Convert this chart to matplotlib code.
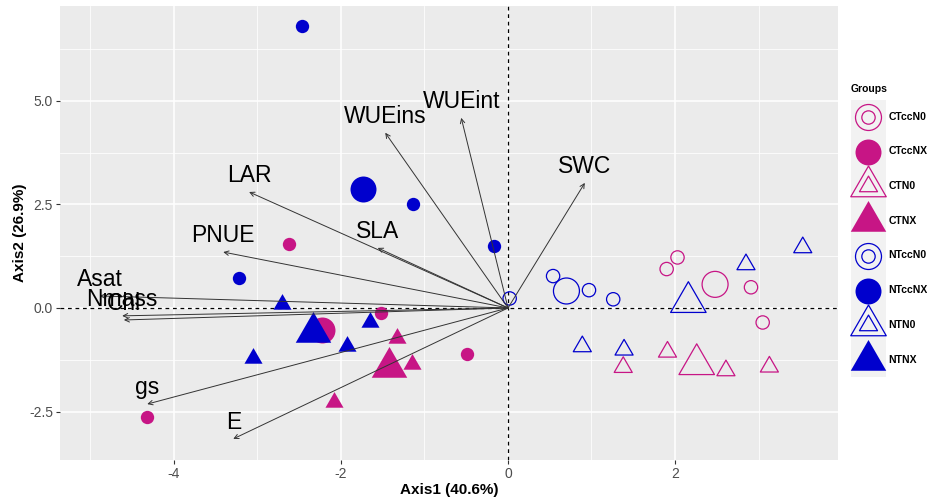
import matplotlib
matplotlib.use('Agg')
import matplotlib.pyplot as plt
from matplotlib.lines import Line2D
from matplotlib.patches import Rectangle
from matplotlib.path import Path
from matplotlib.legend_handler import HandlerBase

plt.rcParams['font.family'] = ['Liberation Sans', 'DejaVu Sans']
plt.rcParams['axes.unicode_minus'] = False

# ---------------- data ----------------
groups = ['CTccN0', 'CTccNX', 'CTN0', 'CTNX', 'NTccN0', 'NTccNX', 'NTN0', 'NTNX']

ctccn0_x = [1.90, 2.03, 2.91, 3.05]
ctccn0_y = [0.94, 1.22, 0.50, -0.35]
ctccnx_x = [-2.62, -1.52, -4.32, -0.49]
ctccnx_y = [1.55, -0.12, -2.63, -1.11]
ctn0_x = [1.38, 1.91, 2.61, 3.13]
ctn0_y = [-1.43, -1.06, -1.51, -1.42]
ctnx_x = [-1.33, -1.15, -2.08]
ctnx_y = [-0.73, -1.35, -2.27]
ntccn0_x = [0.02, 0.54, 0.97, 1.26]
ntccn0_y = [0.23, 0.77, 0.43, 0.21]
ntccnx_x = [-2.47, -1.14, -0.17, -3.22]
ntccnx_y = [6.81, 2.51, 1.50, 0.72]
ntn0_x = [0.89, 1.39, 2.85, 3.53]
ntn0_y = [-0.93, -1.01, 1.05, 1.46]
ntnx_x = [-2.71, -1.65, -1.93, -3.05]
ntnx_y = [0.10, -0.34, -0.91, -1.21]

centroid_x = [2.48, -2.23, 2.26, -1.43, 0.70, -1.74, 2.16, -2.34]
centroid_y = [0.57, -0.53, -1.36, -1.43, 0.41, 2.87, 0.14, -0.59]

variables = ['Asat', 'Nmass', 'Chl', 'gs', 'E', 'PNUE', 'LAR', 'SLA', 'WUEins', 'WUEint', 'SWC']
load_x = [-4.89, -4.62, -4.60, -4.32, -3.29, -3.41, -3.10, -1.56, -1.47, -0.56, 0.92]
load_y = [0.29, -0.19, -0.29, -2.32, -3.16, 1.35, 2.80, 1.45, 4.23, 4.59, 3.02]

x_ticks = [-4, -2, 0, 2]
y_ticks = [-2.5, 0.0, 2.5, 5.0]
y_ticklabels = ['-2.5', '0.0', '2.5', '5.0']

# ---------------- styles ----------------
MAG = '#C71585'
BLU = '#0000CD'
tri = Path([(0, 0.577), (-0.5, -0.289), (0.5, -0.289), (0, 0.577)],
           [Path.MOVETO, Path.LINETO, Path.LINETO, Path.CLOSEPOLY])

group_x = [ctccn0_x, ctccnx_x, ctn0_x, ctnx_x, ntccn0_x, ntccnx_x, ntn0_x, ntnx_x]
group_y = [ctccn0_y, ctccnx_y, ctn0_y, ctnx_y, ntccn0_y, ntccnx_y, ntn0_y, ntnx_y]
g_color = [MAG, MAG, MAG, MAG, BLU, BLU, BLU, BLU]
g_marker = ['o', 'o', tri, tri, 'o', 'o', tri, tri]
g_filled = [False, True, False, True, False, True, False, True]

SMALL = {'o': 9.6, 'tri': 15.0}
LARGE = {'o': 18.7, 'tri': 29.5}

fig = plt.figure(figsize=(9.28, 4.99), dpi=100)
ax = fig.add_axes([60 / 928, 39 / 499, 778 / 928, 454 / 499])
ax.set_facecolor('#EBEBEB')
for s in ax.spines.values():
    s.set_visible(False)

ax.set_xlim(-5.365, 3.952)
ax.set_ylim(-3.67, 7.29)
ax.set_xticks(x_ticks)
ax.set_xticklabels([str(v) for v in x_ticks])
ax.set_yticks(y_ticks)
ax.set_yticklabels(y_ticklabels)
ax.set_xticks([-5, -3, -1, 1, 3], minor=True)
ax.set_yticks([-1.25, 1.25, 3.75, 6.25], minor=True)
ax.grid(which='major', color='white', lw=1.1)
ax.grid(which='minor', color='white', lw=0.55)
ax.set_axisbelow(True)
ax.tick_params(which='major', length=3, width=0.8, color='#333333',
               labelcolor='#4D4D4D', labelsize=10, pad=2)
ax.tick_params(which='minor', length=0)

ax.axhline(0, color='black', lw=0.9, ls=(0, (3, 3)), zorder=1)
ax.axvline(0, color='black', lw=0.9, ls=(0, (3, 3)), zorder=1)

z = 2
for i, g in enumerate(groups):
    key = 'o' if g_marker[i] == 'o' else 'tri'
    for xs, ys, ms in [(group_x[i], group_y[i], SMALL[key]),
                       ([centroid_x[i]], [centroid_y[i]], LARGE[key])]:
        if g_filled[i]:
            ax.scatter(xs, ys, s=ms ** 2, marker=g_marker[i], color=g_color[i],
                       linewidths=0, zorder=z)
        else:
            ax.scatter(xs, ys, s=ms ** 2, marker=g_marker[i], facecolors='none',
                       edgecolors=g_color[i], linewidths=0.9, zorder=z)
        z += 0.01

for name, lx, ly in zip(variables, load_x, load_y):
    ax.annotate('', xy=(lx, ly), xytext=(0, 0),
                arrowprops=dict(arrowstyle='->', lw=0.7, color='#333333',
                                shrinkA=0, shrinkB=0, mutation_scale=8),
                zorder=5)
    ax.annotate(name, xy=(lx, ly), xytext=(0, 12), textcoords='offset points',
                ha='center', va='center', fontsize=16.5, color='black', zorder=6)

ax.set_xlabel('Axis1 (40.6%)', fontsize=11, fontweight='bold', va='center')
ax.xaxis.set_label_coords(0.5, -0.066)
ax.set_ylabel('Axis2 (26.9%)', fontsize=11, fontweight='bold', va='center')
ax.yaxis.set_label_coords(-0.052, 0.5)


# ---------------- legend ----------------
class KeyHandler(HandlerBase):
    """ggplot-like legend key: grey square with large + small marker overlaid."""

    def create_artists(self, legend, orig_handle, xdescent, ydescent,
                       width, height, fontsize, trans):
        cx = width / 2 - xdescent
        cy = height / 2 - ydescent
        arts = [Rectangle((-xdescent, -ydescent), width, height,
                          facecolor='#F2F2F2', edgecolor='none', transform=trans)]
        for h in orig_handle:
            arts.append(Line2D([cx], [cy], ls='none', marker=h.get_marker(),
                               markersize=h.get_markersize(),
                               markerfacecolor=h.get_markerfacecolor(),
                               markeredgecolor=h.get_markeredgecolor(),
                               markeredgewidth=h.get_markeredgewidth(),
                               transform=trans))
        return arts


handles = []
for i, g in enumerate(groups):
    key = 'o' if g_marker[i] == 'o' else 'tri'
    if g_filled[i]:
        kw = dict(markerfacecolor=g_color[i], markeredgecolor=g_color[i],
                  markeredgewidth=0)
    else:
        kw = dict(markerfacecolor='none', markeredgecolor=g_color[i],
                  markeredgewidth=0.9)
    big = Line2D([], [], ls='none', marker=g_marker[i], markersize=LARGE[key], **kw)
    small = Line2D([], [], ls='none', marker=g_marker[i], markersize=SMALL[key], **kw)
    handles.append((big, small))

FS = 7.5
HL = 25.2 / FS                      # key width 35 px
HH = (25.0 / FS - 0.245) / 0.65     # key height ~34.7 px
leg = fig.legend(handles, groups, loc='upper left',
                 bbox_to_anchor=(851 / 928, 1 - 84 / 499),
                 handler_map={tuple: KeyHandler()},
                 frameon=False, title='Groups', alignment='left',
                 prop=dict(size=FS, weight='bold'),
                 title_fontproperties=dict(size=7.5, weight='bold'),
                 handlelength=HL, handleheight=HH, labelspacing=0,
                 handletextpad=0.25, borderpad=0, borderaxespad=0)
try:
    leg._legend_box.sep = 4
except Exception:
    pass

fig.savefig('out.png', dpi=100)
